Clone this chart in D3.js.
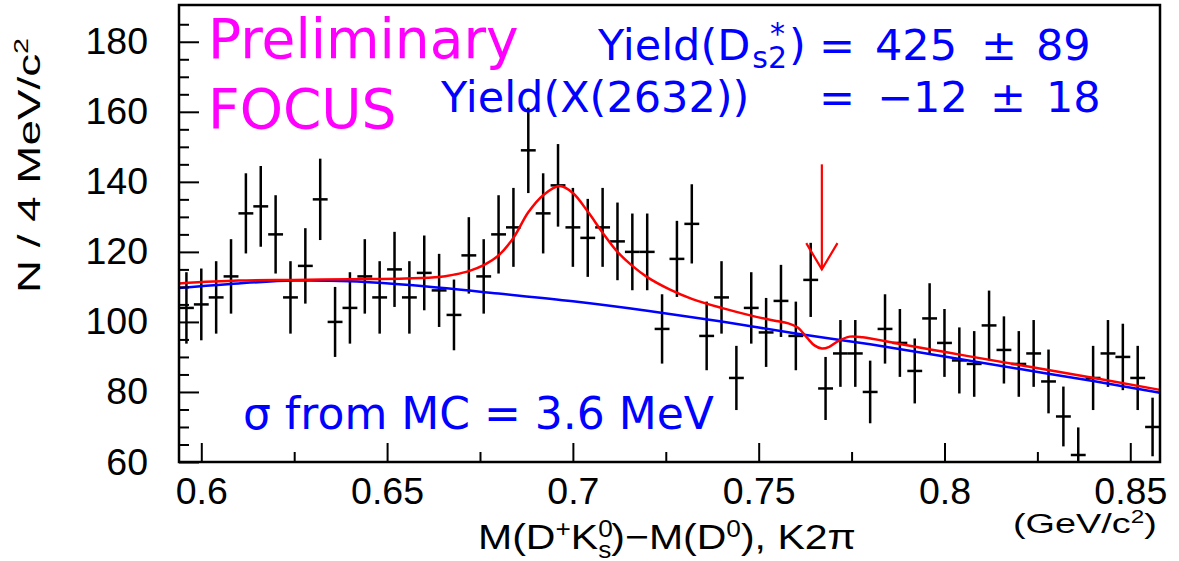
<!DOCTYPE html>
<html>
<head>
<meta charset="utf-8">
<script src="https://cdn.jsdelivr.net/npm/d3@7"></script>
<style>
  body { margin: 0; background: #fff; }
  svg { display: block; }
</style>
</head>
<body>
<div id="chart"></div>
<script>
// 66 bins of 4 MeV, first bin starts at 0.594 GeV
const massStart = 0.594;
const binWidth = 0.004;
const counts = [104, 105, 107, 113, 131, 133, 125, 107, 116, 135,
                100, 104, 113, 107, 115, 107, 114, 109, 102, 119,
                113, 125, 127, 149, 131, 139, 127, 124, 127, 123,
                120, 120, 98, 118, 128, 96, 107, 84, 104, 97,
                106, 96, 112, 81, 91, 91, 80, 98, 94, 86,
                101, 94, 89, 88, 99, 92, 88, 91, 83, 73,
                62, 84, 91, 90, 84, 70];

// background fit (blue)
const bgMass = [0.594, 0.61, 0.625, 0.64, 0.66, 0.68, 0.70, 0.72, 0.74, 0.76, 0.78, 0.80, 0.82, 0.84, 0.858];
const bgFit  = [109.7, 111.0, 111.8, 111.6, 110.2, 108.1, 105.9, 103.2, 100.1, 96.7, 93.6, 90.1, 86.6, 83.1, 79.8];

// total fit (red)
const totMass = [0.594, 0.61, 0.625, 0.64, 0.655, 0.664, 0.668, 0.672, 0.676, 0.680, 0.684, 0.688, 0.692, 0.6965,
                 0.700, 0.704, 0.708, 0.712, 0.716, 0.720, 0.726, 0.732, 0.740, 0.748, 0.754, 0.758, 0.7605,
                 0.763, 0.765, 0.767, 0.769, 0.7715, 0.7745, 0.778, 0.788, 0.797, 0.806, 0.831, 0.858];
const totFit  = [111.0, 111.8, 112.0, 112.2, 112.4, 112.8, 113.5, 114.5, 116.2, 119.0, 124.0, 131.3, 136.2, 138.8,
                 136.8, 131.5, 125.5, 120.0, 116.0, 112.8, 109.3, 106.6, 104.0, 101.8, 100.4, 99.6, 98.4,
                 95.5, 93.3, 92.4, 92.9, 94.6, 95.8, 95.6, 93.7, 92.0, 90.3, 85.7, 80.6];

// X(2632) marker
const arrowMass = 0.767;
const arrowFrom = 145;
const arrowTo = 115;

const xMajor = [0.6, 0.65, 0.7, 0.75, 0.8, 0.85];
const xMinor = [0.625, 0.675, 0.725, 0.775, 0.825];
const yMajor = [60, 80, 100, 120, 140, 160, 180];
const yMinor = [65, 70, 75, 85, 90, 95, 105, 110, 115, 125, 130, 135, 145, 150, 155, 165, 170, 175, 185];

const W = 1179, H = 561;
const margin = {top: 5, right: 19, bottom: 99, left: 179};

const svg = d3.select("#chart").append("svg")
    .attr("width", W)
    .attr("height", H);

const x = d3.scaleLinear()
    .domain([0.594, 0.858])
    .range([margin.left, W - margin.right]);

const y = d3.scaleLinear()
    .domain([60, 190.5])
    .range([H - margin.bottom, margin.top]);

const bins = counts.map((n, i) => ({
    lo: massStart + i * binWidth,
    hi: massStart + (i + 1) * binWidth,
    mid: massStart + (i + 0.5) * binWidth,
    n: n,
    err: Math.sqrt(n)
}));

// stretch a text horizontally so it spans x0..x1
function fitText(t, x0, x1) {
    const bb = t.node().getBBox();
    const k = (x1 - x0) / bb.width;
    t.attr("transform", `translate(${x0 - bb.x * k},0) scale(${k},1)`);
}

// ---- data points with error bars
const pts = svg.append("g")
    .attr("stroke", "black")
    .attr("stroke-width", 2.5);

pts.selectAll(".ey")
    .data(bins)
    .join("line")
        .attr("x1", d => x(d.mid))
        .attr("x2", d => x(d.mid))
        .attr("y1", d => y(Math.max(d.n - d.err, 60)))
        .attr("y2", d => y(d.n + d.err));

pts.selectAll(".ex")
    .data(bins)
    .join("line")
        .attr("x1", d => Math.max(x(d.lo), x(0.594)))
        .attr("x2", d => x(d.hi))
        .attr("y1", d => y(d.n))
        .attr("y2", d => y(d.n));

// ---- fit curves
const bgLine = d3.line()
    .x((d, i) => x(bgMass[i]))
    .y(d => y(d))
    .curve(d3.curveCatmullRom.alpha(0.5));

const totLine = d3.line()
    .x((d, i) => x(totMass[i]))
    .y(d => y(d))
    .curve(d3.curveCatmullRom.alpha(0.5));

svg.append("path")
    .attr("d", bgLine(bgFit))
    .attr("fill", "none")
    .attr("stroke", "#0000ff")
    .attr("stroke-width", 2.5);

svg.append("path")
    .attr("d", totLine(totFit))
    .attr("fill", "none")
    .attr("stroke", "#ff0000")
    .attr("stroke-width", 2.5);

// ---- arrow at X(2632)
const arrow = svg.append("g")
    .attr("stroke", "#ff0000")
    .attr("stroke-width", 2.2)
    .attr("fill", "none");

arrow.append("line")
    .attr("x1", x(arrowMass)).attr("x2", x(arrowMass))
    .attr("y1", y(arrowFrom)).attr("y2", y(arrowTo));

arrow.append("path")
    .attr("d", `M${x(arrowMass - 0.0042)},${y(arrowTo + 7.5)} L${x(arrowMass)},${y(arrowTo)} L${x(arrowMass + 0.0042)},${y(arrowTo + 7.5)}`);

// ---- axes
const tickFont = "'Liberation Sans', Arial, sans-serif";

const xAxisG = svg.append("g")
    .attr("transform", `translate(0,${y(60)})`);

xAxisG.append("g")
    .call(d3.axisBottom(x).tickValues(xMinor).tickSize(-10).tickFormat(""));

xAxisG.append("g")
    .call(d3.axisBottom(x).tickValues(xMajor).tickSize(-19).tickPadding(15)
        .tickFormat(d => String(+d.toFixed(3))));

const yAxisG = svg.append("g")
    .attr("transform", `translate(${x(0.594)},0)`);

yAxisG.append("g")
    .call(d3.axisLeft(y).tickValues(yMinor).tickSize(-10).tickFormat(""));

yAxisG.append("g")
    .call(d3.axisLeft(y).tickValues(yMajor).tickSize(-20).tickPadding(31)
        .tickFormat(d3.format("d")));

svg.selectAll(".domain").remove();
svg.selectAll(".tick line")
    .attr("stroke", "black")
    .attr("stroke-width", 2);
svg.selectAll(".tick text")
    .attr("font-family", tickFont)
    .attr("font-size", 37.5)
    .attr("fill", "black");

// frame
svg.append("rect")
    .attr("x", x(0.594))
    .attr("y", y(190.5))
    .attr("width", x(0.858) - x(0.594))
    .attr("height", y(60) - y(190.5))
    .attr("fill", "none")
    .attr("stroke", "black")
    .attr("stroke-width", 2.5);

// ---- axis titles
const xt = svg.append("text")
    .attr("font-family", tickFont)
    .attr("font-size", 36)
    .attr("y", 549);
xt.append("tspan").text("M(D");
xt.append("tspan").attr("font-size", 23).attr("dy", -12).text("+");
xt.append("tspan").attr("dy", 12).text("K");
xt.append("tspan").attr("font-size", 23).attr("dy", -12).text("0");
xt.append("tspan").attr("font-size", 23).attr("dx", -12.8).attr("dy", 21).text("s");
xt.append("tspan").attr("dy", -9).text(")\u2212M(D");
xt.append("tspan").attr("font-size", 23).attr("dy", -12).text("0");
xt.append("tspan").attr("dy", 12).text("), K2\u03c0");
fitText(xt, 478, 856);

const unit = svg.append("text")
    .attr("font-family", tickFont)
    .attr("font-size", 28)
    .attr("y", 533);
unit.append("tspan").text("(GeV/c");
unit.append("tspan").attr("font-size", 18).attr("dy", -10).text("2");
unit.append("tspan").attr("dy", 10).text(")");
fitText(unit, 1013, 1157);

const yt = svg.append("text")
    .attr("font-family", tickFont)
    .attr("font-size", 32);
yt.append("tspan").text("N / 4 MeV/c");
yt.append("tspan").attr("font-size", 20).attr("dy", -12).text("2");
{
    const bb = yt.node().getBBox();
    const k = 255 / bb.width;
    yt.attr("transform", `translate(40,293) rotate(-90) scale(${k},1) translate(${-bb.x},0)`);
}

// ---- annotations
const annFont = "'DejaVu Sans', Verdana, sans-serif";

svg.append("text")
    .attr("x", 208).attr("y", 58)
    .attr("font-family", annFont).attr("font-size", 55)
    .attr("fill", "#ff00ff")
    .text("Preliminary");

svg.append("text")
    .attr("x", 208).attr("y", 128)
    .attr("font-family", annFont).attr("font-size", 55)
    .attr("fill", "#ff00ff")
    .text("FOCUS");

const blue = svg.append("g")
    .attr("font-family", annFont)
    .attr("font-size", 43)
    .attr("fill", "#0000ff");

const r1 = blue.append("text").attr("x", 598).attr("y", 60);
r1.append("tspan").text("Yield(D");
r1.append("tspan").attr("font-size", 30).attr("dx", 2).attr("dy", 8).text("s2");
r1.append("tspan").attr("font-size", 30).attr("dx", -17).attr("dy", -24).text("*");
r1.append("tspan").attr("dx", 4).attr("dy", 16).text(")");

const r1r = blue.append("text").attr("y", 60);
r1r.append("tspan").attr("x", 819).text("=");
r1r.append("tspan").attr("x", 875).text("425");
r1r.append("tspan").attr("x", 981).text("\u00b1");
r1r.append("tspan").attr("x", 1036).text("89");

blue.append("text").attr("x", 441).attr("y", 112).text("Yield(X(2632))");

const r2r = blue.append("text").attr("y", 112);
r2r.append("tspan").attr("x", 819).text("=");
r2r.append("tspan").attr("x", 877).text("\u221212");
r2r.append("tspan").attr("x", 990).text("\u00b1");
r2r.append("tspan").attr("x", 1046).text("18");

blue.append("text")
    .attr("x", 243).attr("y", 429)
    .attr("font-size", 44)
    .text("\u03c3 from MC = 3.6 MeV");
</script>
</body>
</html>
